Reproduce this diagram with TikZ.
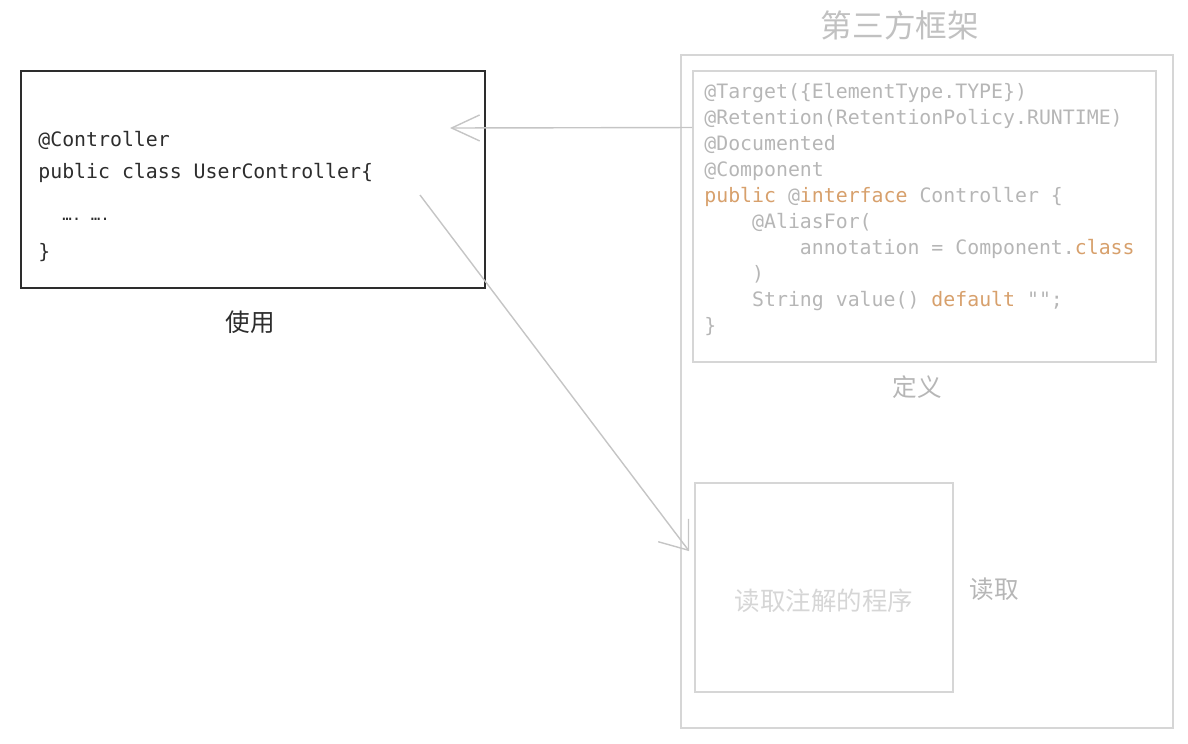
\documentclass[tikz,border=0pt]{standalone}
\usepackage{fontspec}
\setmainfont{DejaVu Sans}
\setmonofont{DejaVu Sans Mono}
\newfontfamily\cjk{Noto Sans CJK SC}
\usetikzlibrary{arrows.meta,calc}
\definecolor{framegray}{RGB}{214,214,214}
\definecolor{codegray}{RGB}{182,182,182}
\definecolor{keyorange}{RGB}{215,160,108}
\definecolor{usedark}{RGB}{45,45,45}
\tikzset{
    box/.style={draw=framegray, line width=1pt, inner sep=0pt},
    code/.style={font=\ttfamily\fontsize{11.3}{14.8}\selectfont, align=left, inner sep=0pt},
    caption/.style={font=\cjk\fontsize{14}{16}\selectfont, inner sep=0pt},
    link/.style={draw=framegray!92!black, line width=0.8pt}
}
\newcommand{\kw}[1]{\textcolor{keyorange}{#1}}

\begin{document}
\begin{tikzpicture}[x=0.02cm, y=-0.02cm]
\useasboundingbox (0,0) rectangle (1188,744);
% using side
\node[box, draw=usedark, minimum width=9.28cm, minimum height=4.34cm] (use) at (253,179.5) {};
\node[code, font=\ttfamily\fontsize{11.3}{18.2}\selectfont, text=usedark, anchor=north west] (usecode) at (38,131)
  {@Controller\\public class UserController\{\\[0.2cm]\phantom{00}{\fontsize{9}{9}\selectfont…. ….}\\[0.12cm]\}};
\node[caption, text=usedark] (uselabel) at (250,322) {使用};

% framework side
\node[box, minimum width=9.84cm, minimum height=13.46cm] (framework) at (927,391.5) {};
\node[caption, font=\cjk\fontsize{18}{20}\selectfont, text=framegray!90!black] (frametitle) at (900,25) {第三方框架};
\node[box, minimum width=9.26cm, minimum height=5.82cm] (defbox) at (924.5,216.5) {};
\node[code, text=codegray, anchor=west] (defcode) at (704,210)
  {@Target(\{ElementType.TYPE\})\\
   @Retention(RetentionPolicy.RUNTIME)\\
   @Documented\\
   @Component\\
   \kw{public} @\kw{interface} Controller \{\\
   \phantom{0000}@AliasFor(\\
   \phantom{00000000}annotation = Component.\kw{class}\\
   \phantom{0000})\\
   \phantom{0000}String value() \kw{default} "";\\
   \}};
\node[caption, text=codegray] (deflabel) at (917,387) {定义};
\node[box, minimum width=5.16cm, minimum height=4.18cm, font=\cjk\fontsize{14.5}{16}\selectfont, text=framegray,
  text height=0.9cm, text depth=0pt] (reader) at (824,587.5) {读取注解的程序};
\node[caption, text=codegray] (readlabel) at (994,589) {读取};

\coordinate (usein) at (450,128);
\coordinate (usebody) at (420,195);
\draw[link, -{Straight Barb[length=0.56cm,width=0.52cm]}] ($(defbox.north west)!0.196!(defbox.south west)$) -- (usein);
\draw[link, -{Straight Barb[length=0.5cm,width=0.76cm]}] (usebody) -- ($(reader.north west)+(-5,69)$);
\end{tikzpicture}
\end{document}
